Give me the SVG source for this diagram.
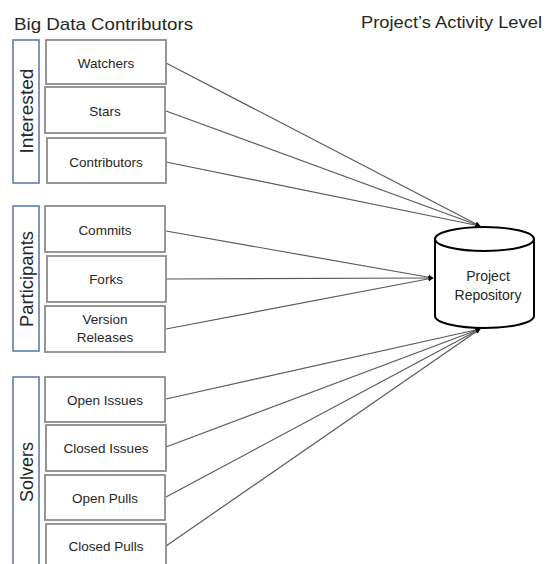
<svg xmlns="http://www.w3.org/2000/svg" width="546" height="564" viewBox="0 0 546 564">
<defs>
<style>
text{font-family:"Liberation Sans",Arial,sans-serif;fill:#262626}
.node rect{fill:#fff;stroke:#8c8c8c;stroke-width:1.8}
.grp rect{fill:#fff;stroke:#6f8db5;stroke-width:1.8}
.node text{font-size:13.5px;text-anchor:middle;dominant-baseline:central}
.grp text{font-size:18px;text-anchor:middle;dominant-baseline:central}
.title{font-size:17px}
#connectors line{stroke:#5a5a5a;stroke-width:1.2;marker-end:url(#ah)}
.cyl{fill:#fff;stroke:#000;stroke-width:2}
</style>
<marker id="ah" viewBox="0 0 10 10" refX="9" refY="5" markerWidth="5" markerHeight="5" markerUnits="userSpaceOnUse" orient="auto">
<path d="M0,0 L10,5 L0,10 z" fill="#000"/>
</marker>
</defs>
<rect width="546" height="564" fill="#fff"/>
<text class="title" x="14" y="30" textLength="179" lengthAdjust="spacingAndGlyphs">Big Data Contributors</text>
<text class="title" x="361" y="28" textLength="181" lengthAdjust="spacingAndGlyphs">Project’s Activity Level</text>

<g id="connectors">
<line x1="166" y1="63" x2="480" y2="226"/>
<line x1="166" y1="111" x2="480" y2="226"/>
<line x1="166" y1="162" x2="480" y2="226"/>
<line x1="166" y1="231" x2="433" y2="278"/>
<line x1="166" y1="279" x2="433" y2="278"/>
<line x1="166" y1="329" x2="433" y2="278"/>
<line x1="166" y1="399" x2="480" y2="329"/>
<line x1="166" y1="447" x2="480" y2="329"/>
<line x1="166" y1="497" x2="480" y2="329"/>
<line x1="166" y1="546" x2="480" y2="329"/>
</g>

<g id="grp-interested" class="grp"><rect x="13" y="40" width="26" height="143"/><text transform="translate(27,111) rotate(-90)" textLength="85" lengthAdjust="spacingAndGlyphs">Interested</text></g>
<g id="grp-participants" class="grp"><rect x="13" y="206" width="26" height="145"/><text transform="translate(27,279) rotate(-90)" textLength="96" lengthAdjust="spacingAndGlyphs">Participants</text></g>
<g id="grp-solvers" class="grp"><rect x="13" y="377" width="26" height="200"/><text transform="translate(27,472) rotate(-90)" textLength="60" lengthAdjust="spacingAndGlyphs">Solvers</text></g>

<g id="n-watchers" class="node"><rect x="46" y="40" width="120" height="44"/><text x="106" y="63">Watchers</text></g>
<g id="n-stars" class="node"><rect x="45" y="87" width="120" height="46"/><text x="105" y="111">Stars</text></g>
<g id="n-contributors" class="node"><rect x="47" y="138" width="119" height="45"/><text x="106" y="162">Contributors</text></g>
<g id="n-commits" class="node"><rect x="45" y="206" width="120" height="46"/><text x="105" y="230">Commits</text></g>
<g id="n-forks" class="node"><rect x="47" y="256" width="119" height="46"/><text x="106" y="279">Forks</text></g>
<g id="n-version" class="node"><rect x="45" y="306" width="120" height="46"/><text x="105" y="319">Version</text><text x="105" y="337">Releases</text></g>
<g id="n-openissues" class="node"><rect x="45" y="377" width="120" height="45"/><text x="105" y="400">Open Issues</text></g>
<g id="n-closedissues" class="node"><rect x="46" y="425" width="120" height="46"/><text x="106" y="448">Closed Issues</text></g>
<g id="n-openpulls" class="node"><rect x="45" y="475" width="120" height="45"/><text x="105" y="498">Open Pulls</text></g>
<g id="n-closedpulls" class="node"><rect x="46" y="524" width="120" height="50"/><text x="106" y="546">Closed Pulls</text></g>

<g id="n-repo">
<path class="cyl" d="M435,239 L435,316 A49.5,12 0 0 0 534,316 L534,239"/>
<ellipse class="cyl" cx="484.5" cy="239" rx="49.5" ry="12"/>
<text x="488" y="276" font-size="14" text-anchor="middle" dominant-baseline="central">Project</text>
<text x="488" y="295" font-size="14" text-anchor="middle" dominant-baseline="central">Repository</text>
</g>
</svg>
